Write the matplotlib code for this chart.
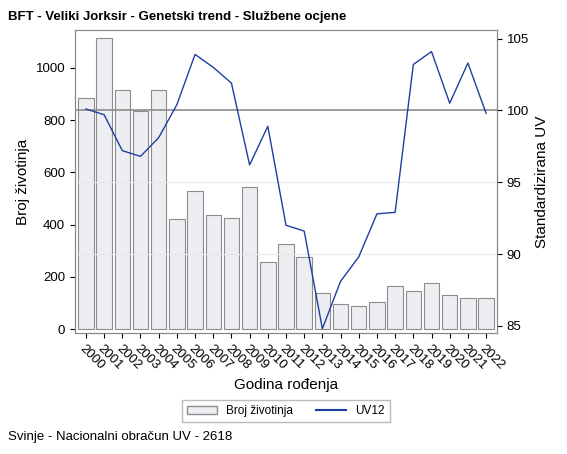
import matplotlib
matplotlib.use("Agg")
import matplotlib.pyplot as plt
from matplotlib.patches import Patch
from matplotlib.lines import Line2D

plt.rcParams['font.family'] = ['Liberation Sans', 'DejaVu Sans']

years = list(range(2000, 2023))
counts = [885, 1115, 915, 835, 915, 420, 530, 435, 425, 545, 255, 325, 275, 140, 95, 90, 105, 165, 145, 175, 130, 120, 120]
uv12 = [100.1, 99.7, 97.2, 96.8, 98.1, 100.4, 103.9, 103.0, 101.9, 96.2, 98.9, 92.0, 91.6, 84.8, 88.1, 89.8, 92.8, 92.9, 103.2, 104.1, 100.5, 103.3, 99.8]

fig = plt.figure(figsize=(5.67, 4.54), dpi=100)
ax = fig.add_axes([75/567, 1-333/454, (497-75)/567, (333-30)/454])
x = list(range(len(years)))
ax.bar(x, counts, width=0.85, color="#eceef2", edgecolor="#8c8c8c", linewidth=0.8)
ax.set_xlim(-0.6, len(years)-0.4)
ax.set_ylim(-15, 1145)
ax.set_yticks([0, 200, 400, 600, 800, 1000])
ax.set_xticks(x)
ax.set_xticklabels([str(y) for y in years], rotation=-45, ha="left", rotation_mode="anchor", fontsize=9.5)
ax.tick_params(labelsize=9.5)
ax.set_ylabel("Broj životinja", fontsize=11)
ax.set_xlabel("Godina rođenja", fontsize=11)

ax2 = ax.twinx()
ax2.set_ylim(84.5, 105.6)
ax2.set_yticks([85, 90, 95, 100, 105])
for v in [90, 95]:
    ax2.axhline(v, color="#e8e8e8", linewidth=0.8, zorder=0)
ax2.axhline(100, color="#8c8c8c", linewidth=1.2)
ax2.plot(x, uv12, color="#1f3fa0", linewidth=1.0)
ax2.tick_params(labelsize=9.5)
ax2.set_ylabel("Standardizirana UV", fontsize=11)
for a in (ax, ax2):
    for s in a.spines.values():
        s.set_color("#888888")

fig.text(8/567, 1-17/454, "BFT - Veliki Jorksir - Genetski trend - Službene ocjene", fontsize=9.5, fontweight="bold", va="center")
fig.text(8/567, 1-437/454, "Svinje - Nacionalni obračun UV - 2618", fontsize=9.5, va="center")
handles = [Patch(facecolor="#eceef2", edgecolor="#8c8c8c", label="Broj životinja"),
           Line2D([0], [0], color="#1f3fa0", label="UV12")]
fig.legend(handles=handles, loc="center", bbox_to_anchor=(286/567, 1-411/454), ncol=2, fontsize=8.5,
           frameon=True, fancybox=False, edgecolor="#aaaaaa", handlelength=2.5)
fig.savefig("out.png", dpi=100)
